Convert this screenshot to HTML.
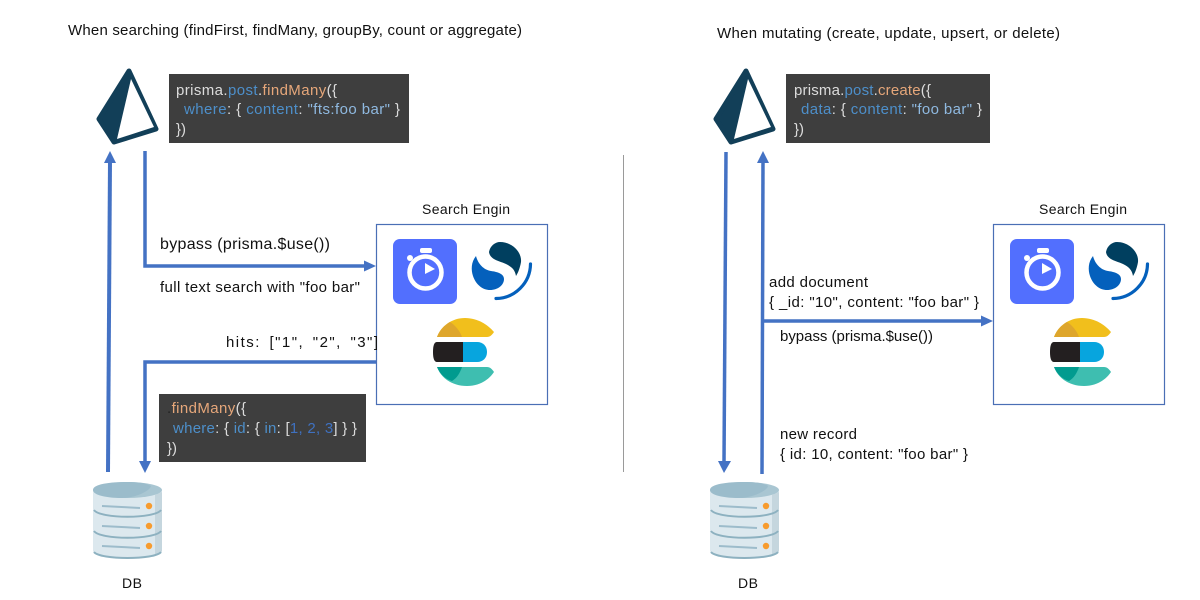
<!DOCTYPE html>
<html>
<head>
<meta charset="utf-8">
<style>
html,body{margin:0;padding:0;background:#fff;width:1200px;height:600px;overflow:hidden}
svg{display:block;filter:blur(0.3px)}
text{font-family:"Liberation Sans",sans-serif;font-size:15px;fill:#111;white-space:pre}
.c{font-size:15px;fill:#dcdcdc}
.o{fill:#e6a77a}.b{fill:#4d8fca}.s{fill:#8fb9e0}.n{fill:#3f71c0}
.sm{font-size:14px}
</style>
</head>
<body>
<svg width="1200" height="600" viewBox="0 0 1200 600" xmlns="http://www.w3.org/2000/svg">
<defs>
<g id="prisma">
<path d="M129 71 L99 119 L114 142 L156 129 Z" fill="#123f58" stroke="#123f58" stroke-width="5" stroke-linejoin="round"/>
<path d="M131 79 L117 139 L154 127 Z" fill="#fff"/>
</g>
<g id="db">
<path d="M93 490 V551 C96 561 159 561 162 551 V490 Z" fill="#dce8ee"/>
<path d="M155 495 L162 492 V551 C161 553 158 555 155 556 Z" fill="#c5d6de"/>
<ellipse cx="127.500" cy="490" rx="34.500" ry="8" fill="#a9c6d2"/>
<path d="M93 490 C93 484 110 482 127 482 C138 482 146 483 151 486 C150 491 135 498 122 498 C106 498 93 495 93 490 Z" fill="#9bbccb"/>
<path d="M94 510 C100 519 155 519 161 510 M94 531 C100 540 155 540 161 531 M94 552 C100 560 155 560 161 552" fill="none" stroke="#8db1c0" stroke-width="2"/>
<path d="M102 506 L140 508 M102 526 L140 528 M102 546 L140 548" fill="none" stroke="#9dbccb" stroke-width="2"/>
<circle cx="149" cy="506" r="3.200" fill="#f79b2e"/><circle cx="149" cy="526" r="3.200" fill="#f79b2e"/><circle cx="149" cy="546" r="3.200" fill="#f79b2e"/>
</g>
<g id="engine">
<rect x="376.500" y="224.500" width="171" height="180" fill="#fff" stroke="#4a6fb5" stroke-width="1.200"/>
<rect x="393" y="239" width="64" height="65" rx="7" fill="#526ffe"/>
<circle cx="425.500" cy="272.500" r="16" fill="none" stroke="#fff" stroke-width="4.500"/>
<rect x="420" y="248" width="12" height="5" rx="2" fill="#fff"/>
<circle cx="410" cy="258" r="3" fill="#fff"/>
<path d="M425 263 L435 269 L425 274 Z" fill="#fff"/>
<path d="M489 252 C490 246 495 242 500 242 C512 242 522 252 521 262 C520 268 518 273 516 276 C515 270 512 267 506 264 C500 261 490 260 489 252 Z" fill="#003f5f"/>
<path d="M476 256 C471 262 471 270 473 276 C476 285 483 290 490 290 C498 290 504 285 504 279 C504 274 498 272 491 271 C484 270 478 264 476 256 Z" fill="#0460bc"/>
<path d="M530.500 264 A35 35 0 0 1 496 298.500" fill="none" stroke="#0460bc" stroke-width="3.200" stroke-linecap="round"/>
<path d="M437 337 C441 326 452 318 465 318 C478 318 488 325 494 332 C492 335 490 337 487 337 Z" fill="#f1bf1c"/>
<path d="M437 337 C440 329 445 325 450 322 C455 325 460 331 462 337 Z" fill="#dea62c"/>
<path d="M463 342 H477 C483 342 487 346 487 352 C487 358 483 362 477 362 H463 Z" fill="#07a5de"/>
<path d="M437 342 H463 V362 H437 C434 362 433 358 433 352 C433 346 434 342 437 342 Z" fill="#231f20"/>
<path d="M437 367 H487 C490 367 492 369 494 372 C488 381 478 386 467 386 C452 386 441 378 437 367 Z" fill="#3ebeb0"/>
<path d="M437 367 H462 C460 373 457 378 452 381 C445 379 440 374 437 367 Z" fill="#019b8f"/>
<text class="sm" x="422" y="214" textLength="88">Search Engin</text>
</g>
</defs>

<!-- titles -->
<text x="68" y="35" textLength="454">When searching (findFirst, findMany, groupBy, count or aggregate)</text>
<text x="717" y="38" textLength="343">When mutating (create, update, upsert, or delete)</text>

<!-- divider -->
<line x1="623.500" y1="155" x2="623.500" y2="472" stroke="#9a9a9a" stroke-width="1"/>

<!-- left side -->
<use href="#prisma"/>
<rect x="169" y="74" width="240" height="69" fill="#3e3e3e"/>
<text class="c" x="176" y="95" textLength="161">prisma.<tspan class="b">post</tspan>.<tspan class="o">findMany</tspan>({</text>
<text class="c" x="184" y="114" textLength="216"><tspan class="b">where</tspan>: { <tspan class="b">content</tspan>: <tspan class="s">"fts:foo bar"</tspan> }</text>
<text class="c" x="176" y="134" textLength="10">})</text>

<use href="#engine"/>

<path d="M108 472 L110 160" fill="none" stroke="#4472c4" stroke-width="4"/>
<path d="M104 163 L110 151 L116 163 Z" fill="#4472c4"/>
<path d="M145 151 V266 H366" fill="none" stroke="#4472c4" stroke-width="3.500"/>
<path d="M364 260.500 L376 266 L364 271.500 Z" fill="#4472c4"/>
<path d="M376 362 H145 V463" fill="none" stroke="#4472c4" stroke-width="3.500"/>
<path d="M139 461 L145 473 L151 461 Z" fill="#4472c4"/>

<text x="160" y="249" textLength="170" style="font-size:16px">bypass (prisma.$use())</text>
<text x="160" y="292" textLength="200">full text search with "foo bar"</text>
<text x="226" y="347" textLength="152" style="word-spacing:3px">hits: ["1", "2", "3"]</text>

<rect x="159" y="394" width="207" height="68" fill="#3e3e3e"/>
<text class="c" x="167" y="413" textLength="79"><tspan fill="#222">.</tspan><tspan class="o">findMany</tspan>({</text>
<text class="c" x="173" y="433" textLength="184"><tspan class="b">where</tspan>: { <tspan class="b">id</tspan>: { <tspan class="b">in</tspan>: [<tspan class="n">1, 2, 3</tspan>] } }</text>
<text class="c" x="167" y="453" textLength="10">})</text>

<use href="#db"/>
<text class="sm" x="122" y="588" textLength="20">DB</text>

<!-- right side -->
<g transform="translate(617,0)">
<use href="#prisma"/>
<use href="#engine"/>
<use href="#db"/>
</g>
<rect x="786" y="74" width="204" height="69" fill="#3e3e3e"/>
<text class="c" x="794" y="95" textLength="137">prisma.<tspan class="b">post</tspan>.<tspan class="o">create</tspan>({</text>
<text class="c" x="801" y="114" textLength="181"><tspan class="b">data</tspan>: { <tspan class="b">content</tspan>: <tspan class="s">"foo bar"</tspan> }</text>
<text class="c" x="794" y="134" textLength="10">})</text>

<path d="M726 152 L724 463" fill="none" stroke="#4472c4" stroke-width="3.500"/>
<path d="M718 461 L724 473 L731 461 Z" fill="#4472c4"/>
<path d="M762 474 L763 160" fill="none" stroke="#4472c4" stroke-width="3.500"/>
<path d="M757 163 L763 151 L769 163 Z" fill="#4472c4"/>
<path d="M763 321 H983" fill="none" stroke="#4472c4" stroke-width="3.500"/>
<path d="M981 315.500 L993 321 L981 326.500 Z" fill="#4472c4"/>

<text x="769" y="287" textLength="99">add document</text>
<text x="769" y="307" textLength="210">{ _id: "10", content: "foo bar" }</text>
<text x="780" y="341" textLength="153">bypass (prisma.$use())</text>
<text x="780" y="439" textLength="77">new record</text>
<text x="780" y="459" textLength="188">{ id: 10, content: "foo bar" }</text>
<text class="sm" x="738" y="588" textLength="20">DB</text>
</svg>
</body>
</html>
